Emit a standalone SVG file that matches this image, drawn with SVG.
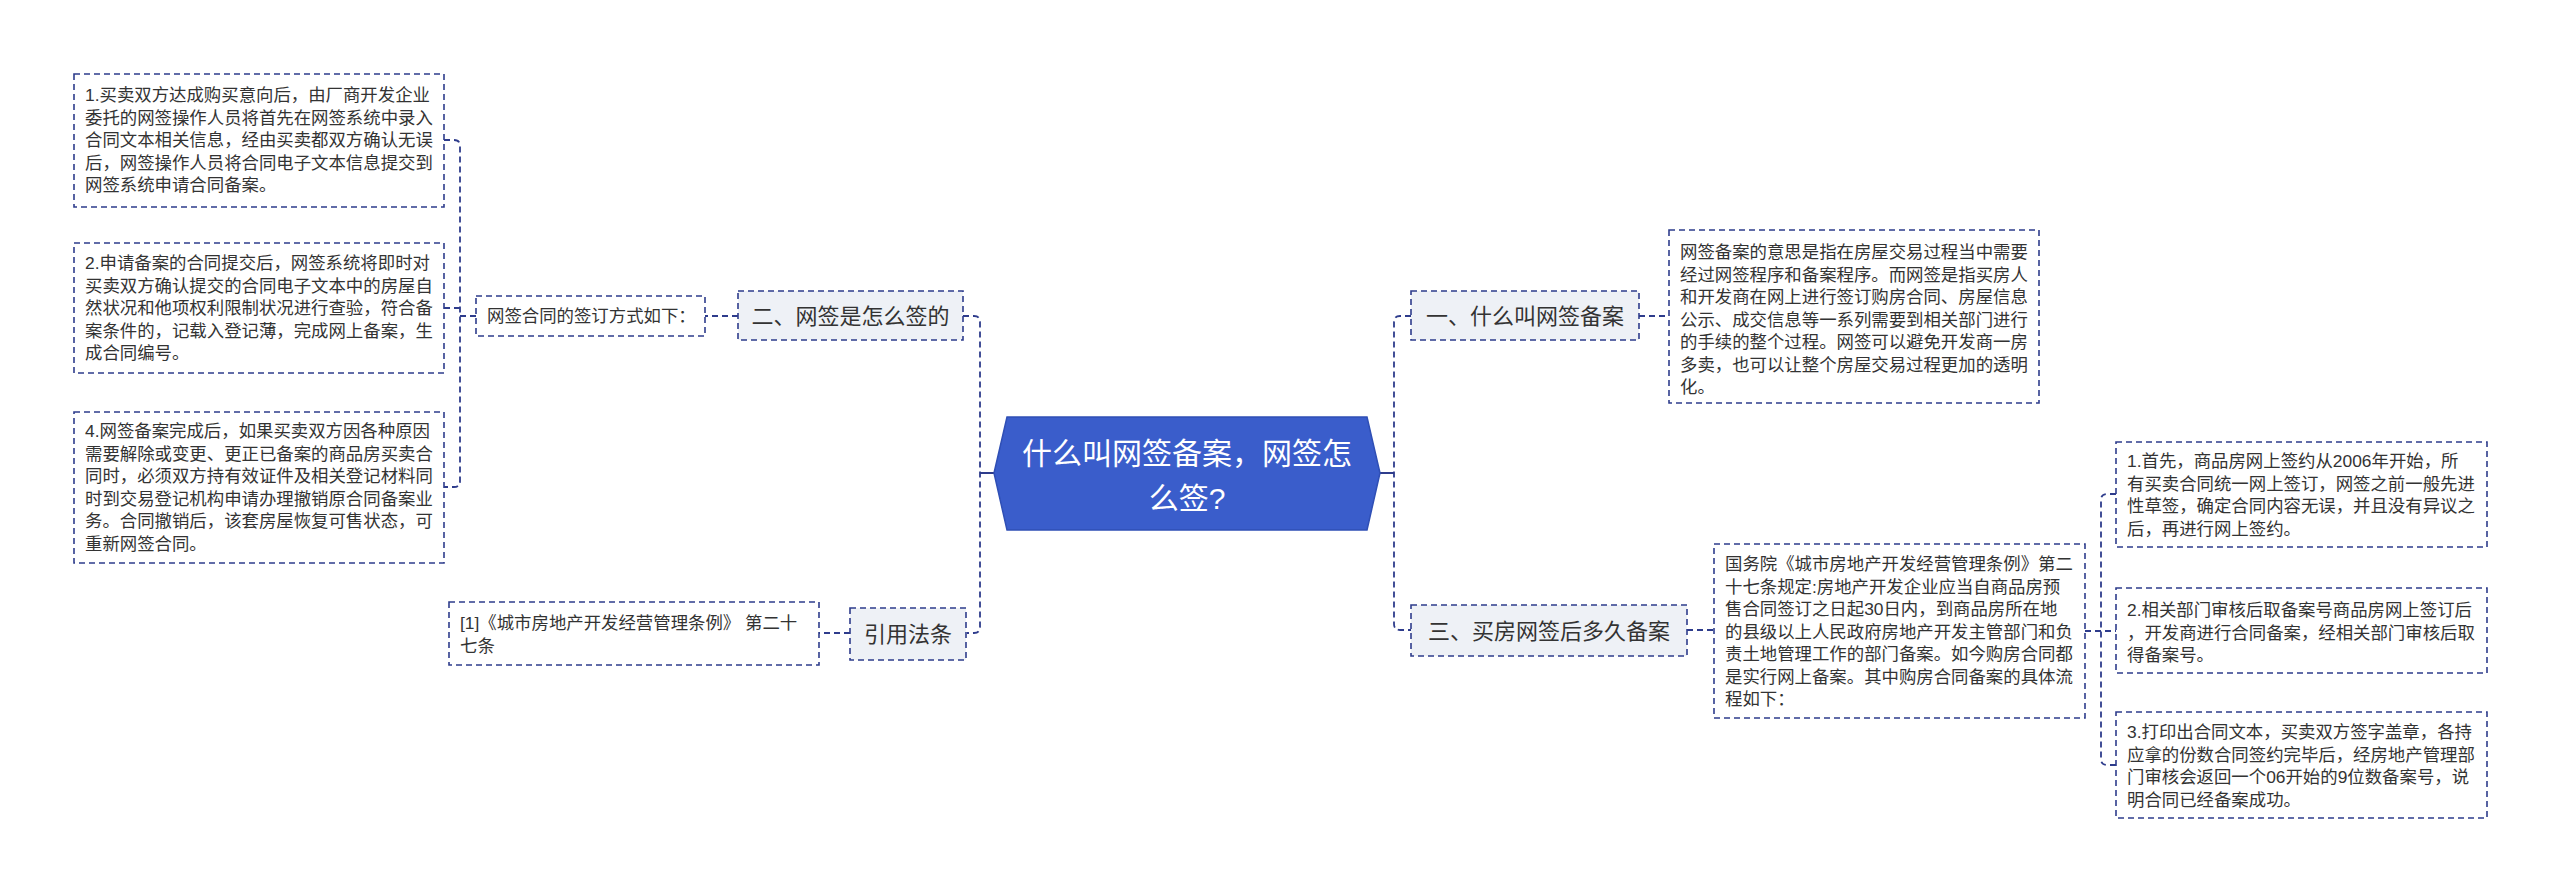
<svg xmlns="http://www.w3.org/2000/svg" width="2560" height="895" viewBox="0 0 2560 895">
<defs>
<style>
.bg{fill:#ffffff}
.leaf{fill:#ffffff;stroke:#2e3c8c;stroke-width:1.6;stroke-dasharray:6 4}
.l1{fill:#eef1f6;stroke:#2e3c8c;stroke-width:1.6;stroke-dasharray:6 4}
.root{fill:#3a5dcb;stroke:#2f4fb5;stroke-width:1.5}
.t{font-family:"Liberation Sans","Noto Sans CJK SC",sans-serif;font-size:17.4px;fill:#333333}
.t1{font-family:"Liberation Sans","Noto Sans CJK SC",sans-serif;font-size:22px;fill:#333333;text-anchor:middle}
.tr{font-family:"Liberation Sans","Noto Sans CJK SC",sans-serif;font-size:30px;fill:#ffffff;text-anchor:middle}
.c{fill:none;stroke:#2e3c8c;stroke-width:1.8;stroke-dasharray:6 4}
.cs{fill:none;stroke:#2e3c8c;stroke-width:2}
</style>
</defs>
<rect class="bg" x="0" y="0" width="2560" height="895"/>
<g id="connectors">
<path class="cs" d="M994,473 H980"/>
<path class="c" d="M963,316 H974 Q980,316 980,322 V627 Q980,633 974,633 H967"/>
<path class="c" d="M738,316 H705"/>
<path class="c" d="M476,316 H460"/>
<path class="c" d="M444,140 H454 Q460,140 460,146 V481 Q460,487 454,487 H444"/>
<path class="c" d="M444,308 H460"/>
<path class="c" d="M850,633 H819"/>
<path class="cs" d="M1380,473 H1394"/>
<path class="c" d="M1411,316 H1400 Q1394,316 1394,322 V624 Q1394,630 1400,630 H1411"/>
<path class="c" d="M1639,316 H1669"/>
<path class="c" d="M1687,630 H1714"/>
<path class="c" d="M2085,631 H2116"/>
<path class="c" d="M2116,494 H2107 Q2101,494 2101,500 V759 Q2101,765 2107,765 H2116"/>
</g>
<g id="root">
<polygon class="root" points="1007,417 1367,417 1380,473 1367,530 1007,530 994,473"/>
<text class="tr" x="1187" y="464">什么叫网签备案，网签怎</text>
<text class="tr" x="1187" y="509">么签?</text>
</g>
<g id="n-er">
<rect class="l1" x="738" y="291" width="225" height="49"/>
<text class="t1" x="850.5" y="323.5">二、网签是怎么签的</text>
</g>
<g id="n-fangshi">
<rect class="leaf" x="476" y="296" width="229" height="40"/>
<text class="t" x="487" y="322">网签合同的签订方式如下：</text>
</g>
<g id="n-step1">
<rect class="leaf" x="74" y="74" width="370" height="133"/>
<text class="t"><tspan x="85" y="101">1.买卖双方达成购买意向后，由厂商开发企业</tspan><tspan x="85" y="123.5">委托的网签操作人员将首先在网签系统中录入</tspan><tspan x="85" y="146">合同文本相关信息，经由买卖都双方确认无误</tspan><tspan x="85" y="168.5">后，网签操作人员将合同电子文本信息提交到</tspan><tspan x="85" y="191">网签系统申请合同备案。</tspan></text>
</g>
<g id="n-step2">
<rect class="leaf" x="74" y="243" width="370" height="130"/>
<text class="t"><tspan x="85" y="269">2.申请备案的合同提交后，网签系统将即时对</tspan><tspan x="85" y="291.5">买卖双方确认提交的合同电子文本中的房屋自</tspan><tspan x="85" y="314">然状况和他项权利限制状况进行查验，符合备</tspan><tspan x="85" y="336.5">案条件的，记载入登记薄，完成网上备案，生</tspan><tspan x="85" y="359">成合同编号。</tspan></text>
</g>
<g id="n-step4">
<rect class="leaf" x="74" y="412" width="370" height="151"/>
<text class="t"><tspan x="85" y="437">4.网签备案完成后，如果买卖双方因各种原因</tspan><tspan x="85" y="459.5">需要解除或变更、更正已备案的商品房买卖合</tspan><tspan x="85" y="482">同时，必须双方持有效证件及相关登记材料同</tspan><tspan x="85" y="504.5">时到交易登记机构申请办理撤销原合同备案业</tspan><tspan x="85" y="527">务。合同撤销后，该套房屋恢复可售状态，可</tspan><tspan x="85" y="549.5">重新网签合同。</tspan></text>
</g>
<g id="n-yinyong">
<rect class="l1" x="850" y="608" width="116" height="52"/>
<text class="t1" x="908" y="642">引用法条</text>
</g>
<g id="n-ref1">
<rect class="leaf" x="449" y="602" width="370" height="63"/>
<text class="t"><tspan x="460" y="629">[1]《城市房地产开发经营管理条例》 第二十</tspan><tspan x="460" y="651.5">七条</tspan></text>
</g>
<g id="n-yi">
<rect class="l1" x="1411" y="291" width="228" height="49"/>
<text class="t1" x="1525" y="323.5">一、什么叫网签备案</text>
</g>
<g id="n-def">
<rect class="leaf" x="1669" y="230" width="370" height="173"/>
<text class="t"><tspan x="1680" y="258">网签备案的意思是指在房屋交易过程当中需要</tspan><tspan x="1680" y="280.5">经过网签程序和备案程序。而网签是指买房人</tspan><tspan x="1680" y="303">和开发商在网上进行签订购房合同、房屋信息</tspan><tspan x="1680" y="325.5">公示、成交信息等一系列需要到相关部门进行</tspan><tspan x="1680" y="348">的手续的整个过程。网签可以避免开发商一房</tspan><tspan x="1680" y="370.5">多卖，也可以让整个房屋交易过程更加的透明</tspan><tspan x="1680" y="393">化。</tspan></text>
</g>
<g id="n-san">
<rect class="l1" x="1411" y="605" width="276" height="51"/>
<text class="t1" x="1549" y="638.5">三、买房网签后多久备案</text>
</g>
<g id="n-guowuyuan">
<rect class="leaf" x="1714" y="544" width="371" height="174"/>
<text class="t"><tspan x="1725" y="570">国务院《城市房地产开发经营管理条例》第二</tspan><tspan x="1725" y="592.5">十七条规定:房地产开发企业应当自商品房预</tspan><tspan x="1725" y="615">售合同签订之日起30日内，到商品房所在地</tspan><tspan x="1725" y="637.5">的县级以上人民政府房地产开发主管部门和负</tspan><tspan x="1725" y="660">责土地管理工作的部门备案。如今购房合同都</tspan><tspan x="1725" y="682.5">是实行网上备案。其中购房合同备案的具体流</tspan><tspan x="1725" y="705">程如下：</tspan></text>
</g>
<g id="n-r1">
<rect class="leaf" x="2116" y="442" width="371" height="105"/>
<text class="t"><tspan x="2127" y="467">1.首先，商品房网上签约从2006年开始，所</tspan><tspan x="2127" y="489.5">有买卖合同统一网上签订，网签之前一般先进</tspan><tspan x="2127" y="512">性草签，确定合同内容无误，并且没有异议之</tspan><tspan x="2127" y="534.5">后，再进行网上签约。</tspan></text>
</g>
<g id="n-r2">
<rect class="leaf" x="2116" y="588" width="371" height="85"/>
<text class="t"><tspan x="2127" y="616">2.相关部门审核后取备案号商品房网上签订后</tspan><tspan x="2127" y="638.5">，开发商进行合同备案，经相关部门审核后取</tspan><tspan x="2127" y="661">得备案号。</tspan></text>
</g>
<g id="n-r3">
<rect class="leaf" x="2116" y="712" width="371" height="106"/>
<text class="t"><tspan x="2127" y="738">3.打印出合同文本，买卖双方签字盖章，各持</tspan><tspan x="2127" y="760.5">应拿的份数合同签约完毕后，经房地产管理部</tspan><tspan x="2127" y="783">门审核会返回一个06开始的9位数备案号，说</tspan><tspan x="2127" y="805.5">明合同已经备案成功。</tspan></text>
</g>
</svg>
